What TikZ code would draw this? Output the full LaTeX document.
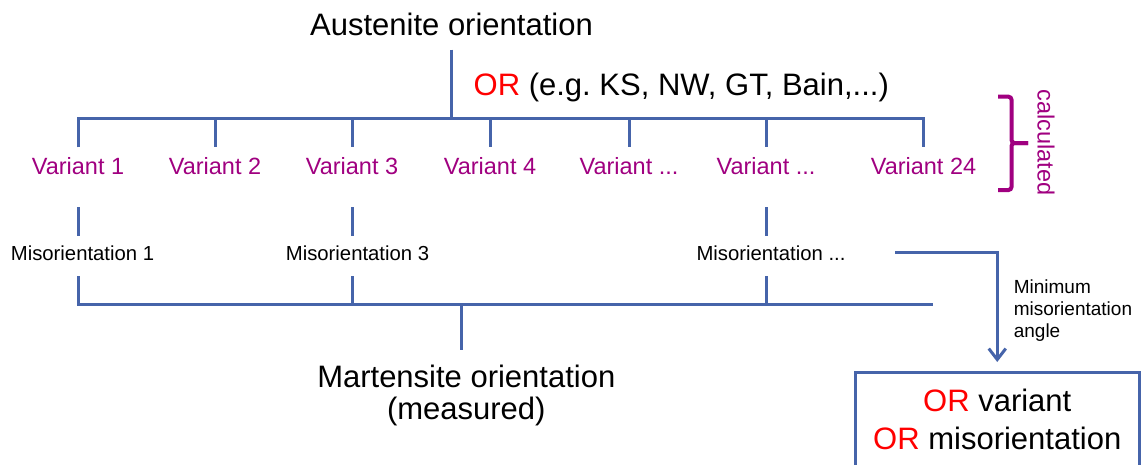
\documentclass[tikz,border=0pt]{standalone}
\usepackage{fontspec}
\setmainfont{Liberation Sans}
\usetikzlibrary{arrows.meta}
\definecolor{linkblue}{RGB}{70,100,170}
\definecolor{calcpurple}{RGB}{160,0,128}
\definecolor{orred}{RGB}{255,0,0}
\frenchspacing
\tikzset{
  link/.style={draw=linkblue, line width=3pt},
  bigtext/.style={font=\fontsize{31}{32}\selectfont, inner sep=0pt},
  varianttext/.style={font=\fontsize{23.5}{28}\selectfont, text=calcpurple, inner sep=0pt, anchor=base},
  misotext/.style={font=\fontsize{20.3}{24}\selectfont, inner sep=0pt, anchor=base},
  notetext/.style={font=\fontsize{19}{22.2}\selectfont, inner sep=0pt, align=left, anchor=north west},
  resultbox/.style={draw=linkblue, line width=3pt, minimum width=283.5pt, inner xsep=0pt, inner ysep=17pt,
    align=center, font=\fontsize{31}{38.3}\selectfont, anchor=north},
  bracestyle/.style={draw=calcpurple, line width=4pt, rounded corners=3pt},
  arrowtip/.style={-{Straight Barb[length=11pt,width=17pt]}}
}
\begin{document}
\begin{tikzpicture}[x=1pt, y=-1pt]
\clip (0,0) rectangle (1141,464);

% parent orientation and relationship
\node[bigtext, anchor=base] (aus) at (451.5,35) {Austenite orientation};
\node[bigtext, anchor=base west] (or) at (473.5,95) {\textcolor{orred}{OR} (e.g. KS, NW, GT, Bain,...)};

% calculated variants
\node[varianttext] (v1)  at (78,174)    {Variant 1};
\node[varianttext] (v2)  at (215,174)   {Variant 2};
\node[varianttext] (v3)  at (352,174)   {Variant 3};
\node[varianttext] (v4)  at (490,174)   {Variant 4};
\node[varianttext] (v5)  at (629,174)   {Variant ...};
\node[varianttext] (v6)  at (766,174)   {Variant ...};
\node[varianttext] (v24) at (923.5,174) {Variant 24};

% misorientations to the measured orientation
\node[misotext] (m1) at (82.5,260.7) {Misorientation 1};
\node[misotext] (m3) at (357.5,260.7) {Misorientation 3};
\node[misotext] (mx) at (771,260.7) {Misorientation ...};

% measured orientation
\node[bigtext, align=center, anchor=north] (mart) at (466.3,365)
  {Martensite orientation\\(measured)};

% result
\node[resultbox] (result) at (997.25,370.5)
  {\textcolor{orred}{OR} variant\\\textcolor{orred}{OR} misorientation};
\node[notetext] (note) at (1013.6,279.1) {Minimum\\misorientation\\angle};

% junctions
\coordinate (j0) at (451,118);
\coordinate (j1) at (461.5,304.3);
\coordinate (barend) at (933,304.3);
\coordinate (aw) at (895,252.7);

% upper tree
\draw[link, shorten <=14pt] (aus.south) -- (aus.south |- j0);
\draw[link, shorten <=9.5pt, shorten >=9.5pt] (v1.north) -- (v1.north |- j0) -- (v24.north |- j0) -- (v24.north);
\foreach \v in {v2,v3,v4,v5,v6}
  \draw[link, shorten >=9.5pt] (\v.north |- j0) -- (\v.north);

% variant to misorientation
\draw[link, shorten <=33pt, shorten >=10pt] (v1.south) -- (v1.south |- m1.north);
\draw[link, shorten <=33pt, shorten >=10pt] (v3.south) -- (v3.south |- m3.north);
\draw[link, shorten <=33pt, shorten >=10pt] (v6.south) -- (v6.south |- mx.north);

% lower tree
\draw[link, shorten <=15pt] (v1.south |- m1.south) -- (v1.south |- j1) -- (barend);
\draw[link, shorten <=15pt] (v3.south |- m3.south) -- (v3.south |- j1);
\draw[link, shorten <=15pt] (v6.south |- mx.south) -- (v6.south |- j1);
\draw[link, shorten >=15pt] (j1) -- (j1 |- mart.north);

% selection arrow
\draw[link, arrowtip, shorten >=8.5pt] (aw) -| (result.north);

% brace for the calculated set
\draw[bracestyle] (998,96.7) -| (1011.5,143) -- (1028,143);
\draw[bracestyle] (1028,143) -- (1011.5,143) |- (998,190);
\node[rotate=-90, font=\fontsize{23.5}{28}\selectfont, text=calcpurple, inner sep=0pt] (calc) at (1046,142.5) {calculated};
\end{tikzpicture}
\end{document}
